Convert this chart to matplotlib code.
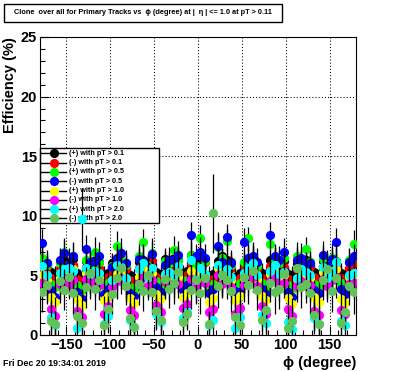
import numpy as np
import matplotlib
matplotlib.use('Agg')
import matplotlib.pyplot as plt
from matplotlib.patches import Rectangle
from matplotlib.lines import Line2D
from matplotlib.ticker import MultipleLocator

plt.rcParams['font.family'] = ['Liberation Sans', 'DejaVu Sans']
plt.rcParams['font.weight'] = 'bold'

# 5 degree bins in phi
phi = np.arange(-177.5, 180, 5.0)

labels = ['(+) with pT > 0.1', '(-) with pT > 0.1', '(+) with pT > 0.5', '(-) with pT > 0.5',
          '(+) with pT > 1.0', '(-) with pT > 1.0', '(+) with pT > 2.0', '(-) with pT > 2.0']
colors = ['#000000', '#ff0000', '#00ff00', '#0000ff', '#ffff00', '#ff00ff', '#00ffff', '#5fc35a']

eff_pos01 = [6.2, 6.0, 5.3, 5.0, 6.1, 6.3, 6.0, 6.4, 5.2, 4.9, 6.2, 6.0,
             6.3, 6.1, 5.1, 5.2, 6.0, 6.5, 6.2, 6.0, 5.0, 4.8, 6.1, 6.3,
             6.0, 6.2, 5.3, 5.1, 6.4, 6.1, 6.5, 6.3, 5.2, 5.4, 6.7, 6.4,
             6.8, 6.3, 5.0, 5.1, 6.2, 6.6, 6.3, 6.1, 4.9, 5.2, 6.0, 6.2,
             6.4, 6.0, 5.2, 5.0, 6.3, 6.5, 6.1, 6.2, 5.1, 5.0, 6.0, 6.2,
             6.3, 6.1, 5.3, 5.1, 6.2, 6.0, 6.4, 6.2, 5.2, 5.0, 6.1, 6.5]
eff_neg01 = [5.7, 5.5, 4.8, 4.6, 5.6, 5.9, 5.5, 5.8, 4.7, 4.5, 5.7, 5.6,
             5.8, 5.6, 4.6, 4.9, 5.5, 6.0, 5.7, 5.5, 4.6, 4.4, 5.6, 5.8,
             5.5, 6.2, 4.9, 4.7, 5.9, 5.6, 6.2, 5.8, 4.8, 5.0, 5.9, 5.5,
             5.6, 6.1, 4.6, 4.7, 5.7, 5.9, 5.8, 5.6, 4.5, 4.8, 5.5, 6.3,
             5.9, 5.5, 4.8, 4.6, 5.8, 6.0, 5.6, 5.7, 4.7, 4.6, 5.5, 5.7,
             5.8, 5.6, 4.9, 4.7, 5.7, 5.5, 5.9, 5.7, 4.8, 4.6, 5.6, 6.0]
eff_pos05 = [6.5, 5.9, 4.3, 4.0, 6.0, 7.0, 5.8, 6.6, 4.2, 3.8, 6.3, 5.9,
             7.0, 6.1, 4.1, 4.4, 5.8, 7.5, 6.4, 5.9, 4.0, 3.9, 6.6, 7.8,
             5.8, 6.9, 4.5, 4.2, 6.2, 6.0, 7.1, 6.3, 4.3, 4.6, 6.7, 5.8,
             8.1, 6.2, 4.0, 4.3, 7.4, 6.5, 7.9, 5.9, 4.1, 4.4, 6.1, 8.1,
             6.3, 5.8, 4.4, 4.0, 7.6, 6.2, 6.0, 6.5, 4.2, 3.9, 6.6, 6.0,
             7.2, 6.1, 4.3, 4.1, 6.4, 5.9, 6.5, 6.2, 4.4, 4.0, 6.3, 7.6]
eff_neg05 = [7.7, 6.0, 3.8, 3.2, 6.3, 6.9, 5.9, 6.6, 3.6, 3.0, 7.2, 6.1,
             6.2, 6.6, 3.4, 3.9, 5.7, 6.4, 6.9, 6.0, 3.5, 3.3, 6.4, 6.2,
             5.7, 6.8, 4.0, 3.6, 5.9, 6.3, 6.3, 6.7, 3.8, 4.2, 8.4, 6.6,
             7.0, 6.5, 3.5, 3.9, 7.5, 6.1, 8.2, 6.0, 3.7, 3.6, 7.8, 6.5,
             6.6, 6.1, 3.9, 3.4, 8.4, 6.6, 6.3, 7.0, 3.6, 3.2, 6.3, 6.5,
             5.9, 6.0, 3.8, 3.5, 6.7, 5.8, 6.4, 7.8, 3.9, 3.4, 6.1, 6.6]
eff_pos10 = [5.0, 4.6, 3.2, 2.8, 4.8, 5.3, 4.7, 5.5, 3.0, 2.5, 5.2, 4.9,
             5.3, 4.8, 2.9, 3.3, 4.6, 5.1, 5.4, 4.7, 3.1, 2.7, 4.9, 5.6,
             4.6, 5.2, 3.4, 3.0, 5.0, 4.8, 5.1, 4.9, 3.2, 3.5, 5.4, 4.7,
             5.2, 5.0, 2.8, 3.1, 5.6, 4.9, 5.3, 4.6, 2.9, 3.3, 4.8, 5.2,
             5.5, 4.7, 3.3, 2.9, 5.1, 5.4, 4.8, 5.0, 3.1, 2.6, 4.7, 5.1,
             5.0, 4.8, 3.2, 2.8, 5.3, 4.7, 5.2, 5.5, 3.0, 2.7, 4.9, 5.0]
eff_neg10 = [4.4, 4.1, 2.2, 1.6, 4.3, 4.8, 4.2, 4.6, 2.0, 1.5, 4.7, 4.3,
             4.6, 4.2, 1.8, 2.4, 4.0, 4.5, 4.8, 4.1, 2.1, 1.7, 4.4, 4.9,
             4.1, 4.6, 2.5, 1.9, 4.5, 4.2, 4.4, 4.3, 2.3, 2.6, 4.7, 4.0,
             4.5, 4.4, 1.9, 2.2, 5.0, 4.3, 4.6, 4.0, 1.8, 2.3, 4.2, 4.6,
             4.9, 4.1, 2.4, 1.8, 4.5, 4.8, 4.2, 4.4, 2.2, 1.6, 4.1, 4.5,
             4.3, 4.2, 2.0, 1.7, 4.7, 4.1, 4.6, 4.9, 2.1, 1.8, 4.3, 4.4]
eff_pos20 = [5.8, 5.0, 1.5, 0.8, 5.2, 5.5, 5.6, 5.4, 0.6, 9.7, 5.6, 5.1,
             5.4, 5.2, 0.9, 1.6, 4.6, 5.9, 5.7, 4.8, 1.3, 0.7, 5.5, 6.0,
             4.9, 5.6, 1.8, 1.1, 5.1, 5.3, 5.0, 5.8, 1.4, 1.9, 6.3, 4.7,
             5.6, 5.1, 0.8, 1.3, 5.9, 5.0, 5.5, 4.9, 0.6, 1.5, 5.2, 5.6,
             6.0, 5.0, 1.7, 1.0, 5.4, 5.9, 5.1, 5.3, 1.1, 0.5, 4.8, 5.5,
             5.3, 5.0, 1.4, 0.9, 5.7, 4.8, 5.4, 6.1, 1.2, 0.8, 5.0, 5.2]
eff_neg20 = [3.6, 4.2, 1.2, 0.9, 4.5, 3.8, 4.9, 3.5, 1.6, 1.0, 4.0, 5.2,
             3.9, 4.6, 0.8, 2.2, 3.4, 4.8, 5.6, 4.1, 1.4, 0.7, 4.3, 3.7,
             5.0, 3.6, 2.0, 1.3, 4.7, 3.9, 4.4, 5.3, 1.1, 1.8, 3.8, 4.6,
             3.5, 4.8, 0.9, 10.2, 4.1, 5.0, 4.6, 3.7, 1.5, 0.8, 4.9, 4.2,
             5.4, 3.8, 1.3, 2.1, 4.4, 3.6, 3.9, 5.1, 0.6, 1.2, 5.6, 4.0,
             4.3, 3.5, 1.7, 0.9, 4.6, 5.5, 3.7, 4.8, 1.0, 1.9, 4.1, 3.6]

err_pos01 = [0.5, 0.6, 0.7, 0.8, 0.5, 0.6, 0.6, 0.5, 0.8, 0.7, 0.5, 0.6,
             0.6, 0.5, 0.7, 0.8, 0.6, 0.5, 0.5, 0.6, 0.8, 0.7, 0.6, 0.5,
             0.6, 0.5, 0.7, 0.8, 0.5, 0.6, 0.5, 0.6, 0.7, 0.8, 0.6, 0.5,
             0.6, 0.5, 0.8, 0.7, 0.5, 0.6, 0.6, 0.5, 0.7, 0.8, 0.6, 0.5,
             0.5, 0.6, 0.8, 0.7, 0.5, 0.6, 0.6, 0.5, 0.7, 0.8, 0.5, 0.6,
             0.6, 0.5, 0.7, 0.8, 0.6, 0.5, 0.5, 0.6, 0.8, 0.7, 0.6, 0.5]
err_neg01 = [0.6, 0.5, 0.8, 0.7, 0.6, 0.5, 0.5, 0.6, 0.7, 0.8, 0.6, 0.5,
             0.5, 0.6, 0.8, 0.7, 0.5, 0.6, 0.6, 0.5, 0.7, 0.8, 0.5, 0.6,
             0.5, 0.6, 0.8, 0.7, 0.6, 0.5, 0.6, 0.5, 0.8, 0.7, 0.5, 0.6,
             0.5, 0.6, 0.7, 0.8, 0.6, 0.5, 0.5, 0.6, 0.8, 0.7, 0.5, 0.6,
             0.6, 0.5, 0.7, 0.8, 0.6, 0.5, 0.5, 0.6, 0.8, 0.7, 0.6, 0.5,
             0.5, 0.6, 0.8, 0.7, 0.5, 0.6, 0.6, 0.5, 0.7, 0.8, 0.5, 0.6]
err_pos05 = [1.1, 1.0, 1.3, 1.4, 1.2, 1.0, 1.1, 1.2, 1.4, 1.3, 1.0, 1.1,
             1.2, 1.1, 1.3, 1.4, 1.0, 1.2, 1.1, 1.0, 1.4, 1.3, 1.2, 1.1,
             1.0, 1.2, 1.3, 1.4, 1.1, 1.0, 1.2, 1.1, 1.4, 1.3, 1.0, 1.2,
             1.1, 1.0, 1.3, 1.4, 1.2, 1.1, 1.0, 1.2, 1.4, 1.3, 1.1, 1.0,
             1.2, 1.1, 1.3, 1.4, 1.0, 1.2, 1.1, 1.0, 1.4, 1.3, 1.2, 1.1,
             1.0, 1.2, 1.3, 1.4, 1.1, 1.0, 1.2, 1.1, 1.4, 1.3, 1.0, 1.2]
err_neg05 = [1.2, 1.1, 1.4, 1.3, 1.0, 1.2, 1.0, 1.1, 1.3, 1.4, 1.2, 1.0,
             1.1, 1.2, 1.4, 1.3, 1.2, 1.0, 1.2, 1.1, 1.3, 1.4, 1.0, 1.2,
             1.1, 1.0, 1.4, 1.3, 1.2, 1.1, 1.0, 1.2, 1.3, 1.4, 1.1, 1.0,
             1.2, 1.1, 1.4, 1.3, 1.0, 1.2, 1.1, 1.0, 1.3, 1.4, 1.2, 1.1,
             1.0, 1.2, 1.4, 1.3, 1.1, 1.0, 1.2, 1.1, 1.3, 1.4, 1.0, 1.2,
             1.1, 1.0, 1.4, 1.3, 1.2, 1.1, 1.0, 1.2, 1.3, 1.4, 1.1, 1.0]
err_pos10 = [1.3, 1.4, 1.6, 1.5, 1.2, 1.3, 1.4, 1.2, 1.5, 1.6, 1.3, 1.4,
             1.2, 1.3, 1.6, 1.5, 1.4, 1.2, 1.3, 1.4, 1.5, 1.6, 1.2, 1.3,
             1.4, 1.2, 1.6, 1.5, 1.3, 1.4, 1.2, 1.3, 1.5, 1.6, 1.4, 1.2,
             1.3, 1.4, 1.6, 1.5, 1.2, 1.3, 1.4, 1.2, 1.5, 1.6, 1.3, 1.4,
             1.2, 1.3, 1.6, 1.5, 1.4, 1.2, 1.3, 1.4, 1.5, 1.6, 1.2, 1.3,
             1.4, 1.2, 1.6, 1.5, 1.3, 1.4, 1.2, 1.3, 1.5, 1.6, 1.4, 1.2]
err_neg10 = [1.4, 1.3, 1.5, 1.6, 1.3, 1.2, 1.2, 1.4, 1.6, 1.5, 1.4, 1.3,
             1.3, 1.2, 1.5, 1.6, 1.2, 1.4, 1.4, 1.3, 1.6, 1.5, 1.3, 1.2,
             1.2, 1.4, 1.5, 1.6, 1.4, 1.3, 1.3, 1.2, 1.6, 1.5, 1.2, 1.4,
             1.4, 1.3, 1.5, 1.6, 1.3, 1.2, 1.2, 1.4, 1.6, 1.5, 1.4, 1.3,
             1.3, 1.2, 1.5, 1.6, 1.2, 1.4, 1.4, 1.3, 1.6, 1.5, 1.3, 1.2,
             1.2, 1.4, 1.5, 1.6, 1.4, 1.3, 1.3, 1.2, 1.6, 1.5, 1.2, 1.4]
err_pos20 = [1.6, 1.7, 1.4, 1.2, 1.8, 1.6, 1.7, 1.5, 1.1, 2.6, 1.6, 1.8,
             1.7, 1.6, 1.2, 1.4, 1.5, 1.7, 1.6, 1.8, 1.3, 1.1, 1.7, 1.6,
             1.8, 1.6, 1.4, 1.2, 1.7, 1.5, 1.6, 1.7, 1.2, 1.4, 1.8, 1.6,
             1.7, 1.5, 1.1, 1.3, 1.6, 1.8, 1.5, 1.7, 1.2, 1.4, 1.6, 1.7,
             1.8, 1.6, 1.4, 1.2, 1.7, 1.5, 1.6, 1.8, 1.3, 1.0, 1.7, 1.6,
             1.5, 1.7, 1.3, 1.2, 1.6, 1.8, 1.7, 1.5, 1.2, 1.1, 1.6, 1.7]
err_neg20 = [1.7, 1.6, 1.3, 1.1, 1.8, 1.7, 1.6, 1.8, 1.4, 1.2, 1.7, 1.6,
             1.8, 1.7, 1.1, 1.5, 1.6, 1.8, 1.7, 1.6, 1.3, 1.0, 1.8, 1.7,
             1.6, 1.8, 1.4, 1.3, 1.7, 1.6, 1.8, 1.7, 1.2, 1.4, 1.6, 1.8,
             1.7, 1.6, 1.1, 3.3, 1.8, 1.7, 1.6, 1.8, 1.4, 1.1, 1.7, 1.6,
             1.8, 1.7, 1.3, 1.5, 1.6, 1.8, 1.7, 1.6, 1.0, 1.3, 1.8, 1.7,
             1.6, 1.8, 1.4, 1.2, 1.7, 1.6, 1.8, 1.7, 1.2, 1.4, 1.6, 1.8]

effs = [eff_pos01, eff_neg01, eff_pos05, eff_neg05, eff_pos10, eff_neg10, eff_pos20, eff_neg20]
errs = [err_pos01, err_neg01, err_pos05, err_neg05, err_pos10, err_neg10, err_pos20, err_neg20]

W, H = 396, 372
fig = plt.figure(figsize=(W / 100, H / 100), dpi=100)
ax = fig.add_axes([40 / W, 1 - 335 / H, 316 / W, 298 / H])

for i in range(len(effs)):
    ax.errorbar(phi, effs[i], yerr=errs[i], fmt='o', ms=5.6, mfc=colors[i], mec=colors[i],
                ecolor='black', elinewidth=0.9, capsize=0, zorder=3 + i)

ax.set_xlim(-180, 180)
ax.set_ylim(0, 25)
ax.xaxis.set_major_locator(MultipleLocator(50))
ax.xaxis.set_minor_locator(MultipleLocator(10))
ax.yaxis.set_major_locator(MultipleLocator(5))
ax.yaxis.set_minor_locator(MultipleLocator(1))
ax.tick_params(which='both', direction='in', top=False, right=False, labelsize=10.5, width=0.8)
ax.tick_params(which='major', length=6.5, pad=2)
ax.tick_params(which='minor', length=3.3)
ax.grid(True, which='major', linestyle=(0, (1.0, 2.0)), color='black', linewidth=0.75, zorder=1)
ax.set_axisbelow(True)
for lab in ax.get_xticklabels() + ax.get_yticklabels():
    lab.set_fontweight('bold')

ax.set_xlabel('ϕ (degree)', fontsize=10.5, fontweight='bold', loc='right', labelpad=3)
ax.set_ylabel('Efficiency (%)', fontsize=10.5, fontweight='bold', loc='top', labelpad=3)

# legend box drawn inside the axes, below the markers
lx0, lx1, ly0, ly1 = 40, 159, 148, 223
ax.add_patch(Rectangle((lx0 / W, 1 - ly1 / H), (lx1 - lx0) / W, (ly1 - ly0) / H,
                       transform=fig.transFigure, facecolor='white', edgecolor='black',
                       linewidth=1.0, zorder=2, clip_on=False))
for i in range(len(labels)):
    yy = 1 - (153.3 + 9.3 * i) / H
    ax.add_line(Line2D([41 / W, 66 / W], [yy, yy], transform=fig.transFigure, color='black',
                       linewidth=1.0, zorder=2.1, clip_on=False))
    ax.add_line(Line2D([53.5 / W], [yy], transform=fig.transFigure, marker='o', ms=5.6,
                       color=colors[i], linestyle='none', zorder=2.2, clip_on=False))
    ax.text(69 / W, yy, labels[i], transform=fig.transFigure, fontsize=5.2, fontweight='bold',
            va='center', ha='left', zorder=2.2)

# title box
fig.patches.append(Rectangle((4 / W, 1 - 22 / H), 278 / W, 18 / H, transform=fig.transFigure,
                             facecolor='white', edgecolor='black', linewidth=1.0))
fig.text(143 / W, 1 - 13 / H, 'Clone  over all for Primary Tracks vs  ϕ (degree) at |  η | <= 1.0 at pT > 0.11',
         fontsize=5.3, fontweight='bold', ha='center', va='center')

fig.text(3 / W, 1 - 364 / H, 'Fri Dec 20 19:34:01 2019', fontsize=6.4, fontweight='bold',
         ha='left', va='center')

fig.savefig('out.png', dpi=100)
